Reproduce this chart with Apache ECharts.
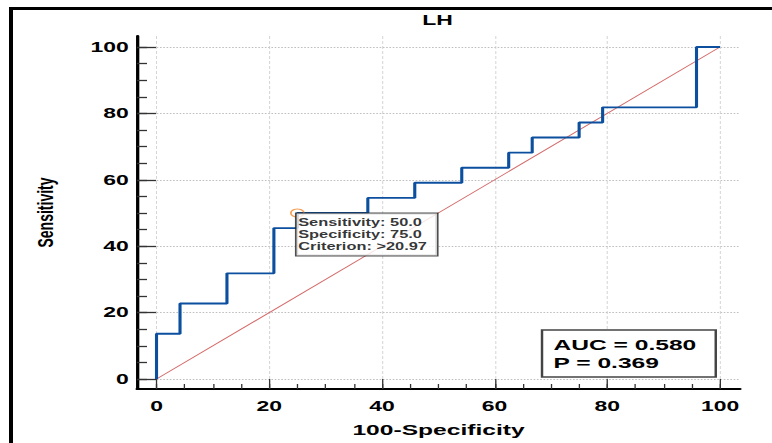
<!DOCTYPE html>
<html>
<head>
<meta charset="utf-8">
<script src="https://cdn.jsdelivr.net/npm/echarts@6/dist/echarts.min.js"></script>
<style>
  html, body { margin: 0; padding: 0; background: #fff; overflow: hidden; width: 772px; height: 443px; }
  #frame { position: absolute; left: 9px; top: 7px; width: 820px; height: 500px;
           border-top: 3px solid #000; border-left: 4px solid #000; }
  /* the plot is laid out narrow and widened horizontally */
  #chart { position: absolute; left: 0; top: 0; width: 471px; height: 443px;
           transform: scaleX(1.639); transform-origin: 0 0; }
</style>
</head>
<body>
<div id="frame"></div>
<div id="chart"></div>
<script>
// ROC curve for LH: operating points (100-Specificity, Sensitivity)
const rocFpr  = [0, 0, 4.17, 12.5, 20.83, 25, 37.5, 45.83, 54.17, 62.5, 66.67, 75, 79.17, 95.83, 100];
const rocSens = [0, 13.64, 22.73, 31.82, 45.45, 50, 54.55, 59.09, 63.64, 68.18, 72.73, 77.27, 81.82, 100, 100];

// chance diagonal
const chanceX = [0, 100];
const chanceY = [0, 100];

// highlighted criterion
const critSensitivity = 50.0;
const critSpecificity = 75.0;
const critCriterion = '>20.97';

// summary statistics
const aucText = '0.580';
const pText = '0.369';

// axis ticks
const majorTicks = [0, 20, 40, 60, 80, 100];
const minorTicks = [0, 5, 10, 15, 20, 25, 30, 35, 40, 45, 50, 55, 60, 65, 70, 75, 80, 85, 90, 95, 100];

const FONT = "'Liberation Sans', Arial, Helvetica, sans-serif";

const rocData = rocFpr.map((x, i) => [x, rocSens[i]]);
const chanceData = chanceX.map((x, i) => [x, chanceY[i]]);
const critPoint = [100 - critSpecificity, critSensitivity];

const X_MIN = -3.46, X_MAX = 103.55;
const Y_MIN = -3.0, Y_MAX = 103.3;

function majorAxis(dim) {
  const isX = dim === 'x';
  return {
    type: 'value',
    min: isX ? X_MIN : Y_MIN,
    max: isX ? X_MAX : Y_MAX,
    position: isX ? 'bottom' : 'left',
    name: isX ? '100-Specificity' : 'Sensitivity',
    nameLocation: 'middle',
    nameGap: isX ? 33 : 49,
    nameTextStyle: { fontFamily: FONT, fontWeight: 'bold', fontSize: isX ? 15 : 14, color: '#000' },
    axisLine: { show: true, onZero: false, lineStyle: { color: '#000', width: 2 } },
    axisTick: { show: true, inside: true, length: isX ? 10 : 11.6, customValues: majorTicks,
                lineStyle: { color: '#333', width: isX ? 0.8 : 1.3 } },
    axisLabel: { show: true, customValues: majorTicks, margin: isX ? 10 : 5,
                 fontFamily: FONT, fontWeight: 'bold', fontSize: 14, color: '#000' },
    splitLine: { show: true, lineStyle: isX
      ? { color: '#c8c8c8', width: 0.6, type: [3, 2] }
      : { color: '#c0c0c0', width: 1, type: [1, 1] } },
    minorTick: { show: false },
    minorSplitLine: { show: false }
  };
}

function minorAxis(dim) {
  const isX = dim === 'x';
  return {
    type: 'value',
    min: isX ? X_MIN : Y_MIN,
    max: isX ? X_MAX : Y_MAX,
    position: isX ? 'bottom' : 'left',
    axisLine: { show: false, onZero: false },
    axisTick: { show: true, inside: true, length: isX ? 5 : 6.1, customValues: minorTicks,
                lineStyle: { color: '#333', width: isX ? 0.8 : 1.3 } },
    axisLabel: { show: false },
    splitLine: { show: false }
  };
}

const chart = echarts.init(document.getElementById('chart'), null, { renderer: 'svg', width: 471, height: 443 });

chart.setOption({
  animation: false,
  backgroundColor: 'transparent',
  title: [
    {
      text: 'LH', left: 267, top: 13, textAlign: 'center', padding: 0,
      textStyle: { fontFamily: FONT, fontWeight: 'bold', fontSize: 14, color: '#000' }
    },
    {
      text: 'AUC = ' + aucText + '\nP = ' + pText,
      left: 330.7, top: 330, padding: [6, 12, 5, 7],
      borderColor: '#444', borderWidth: 1.5, backgroundColor: '#fff',
      textStyle: { fontFamily: FONT, fontWeight: 'bold', fontSize: 15, lineHeight: 18, color: '#000' }
    }
  ],
  grid: { left: 83.6, right: 19.5, top: 36, bottom: 54, containLabel: false, outerBoundsMode: 'none' },
  xAxis: [majorAxis('x'), minorAxis('x')],
  yAxis: [majorAxis('y'), minorAxis('y')],
  series: [
    {
      name: 'Chance', type: 'line', data: chanceData, symbol: 'none', z: 1,
      lineStyle: { color: '#d46a6a', width: 0.8 }
    },
    {
      name: 'ROC', type: 'line', step: 'end', data: rocData, symbol: 'none', z: 2,
      lineStyle: { color: '#0b4f9e', width: 1.9 }
    },
    {
      name: 'Criterion', type: 'scatter', data: [critPoint], z: 5,
      symbol: 'circle', symbolSize: 8,
      itemStyle: { color: 'rgba(255,255,255,0)', borderColor: '#f08a30', borderWidth: 1 },
      label: {
        show: true, position: [4, 5],
        formatter: () => 'Sensitivity: ' + critSensitivity.toFixed(1) +
                         '\nSpecificity: ' + critSpecificity.toFixed(1) +
                         '\nCriterion: ' + critCriterion,
        fontFamily: FONT, fontWeight: 'bold', fontSize: 10, lineHeight: 12, color: '#000',
        backgroundColor: '#fff', borderColor: '#222', borderWidth: 1,
        padding: [3, 6, 3, 1], align: 'left', verticalAlign: 'top'
      },
      emphasis: { disabled: true }
    }
  ]
});
</script>
</body>
</html>
